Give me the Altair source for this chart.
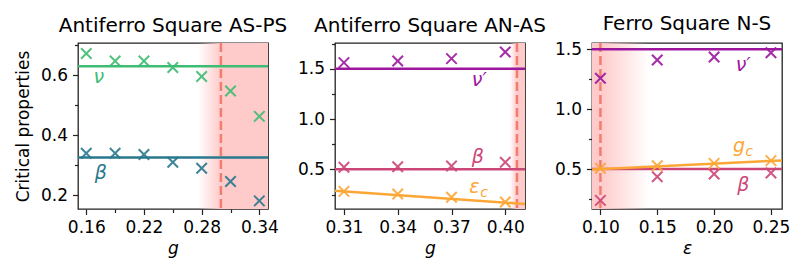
import altair as alt
import pandas as pd

# ---------------- data ----------------
# Panel 1: Antiferro Square AS-PS
p1_g = [0.16, 0.19, 0.22, 0.25, 0.28, 0.31, 0.34]
p1_nu = [0.673, 0.648, 0.648, 0.626, 0.596, 0.548, 0.463]
p1_beta = [0.340, 0.340, 0.336, 0.310, 0.290, 0.246, 0.181]
p1_nu_ref = 0.630
p1_beta_ref = 0.326
p1_xdom = [0.1514, 0.349]
p1_ydom = [0.154, 0.708]
p1_fade = [0.276, 0.300]   # gradient start, critical point
p1_xticks = [0.16, 0.22, 0.28, 0.34]
p1_xminor = [0.19, 0.25, 0.31]
p1_yticks = [0.2, 0.4, 0.6]
p1_yminor = [0.3, 0.5, 0.7]

# Panel 2: Antiferro Square AN-AS
p2_g = [0.31, 0.34, 0.37, 0.40]
p2_nu = [1.560, 1.576, 1.600, 1.665]
p2_beta = [0.520, 0.526, 0.533, 0.570]
p2_eps = [0.281, 0.255, 0.222, 0.175]
p2_nu_ref = 1.5
p2_beta_ref = 0.5
p2_eps_fit_x = [0.305, 0.411]
p2_eps_fit_y = [0.288, 0.156]
p2_xdom = [0.305, 0.411]
p2_ydom = [0.106, 1.755]
p2_fade = [0.4025, 0.4065]
p2_xticks = [0.31, 0.34, 0.37, 0.40]
p2_yticks = [0.5, 1.0, 1.5]
p2_yminor = [0.25, 0.75, 1.25, 1.75]

# Panel 3: Ferro Square N-S
p3_e = [0.10, 0.15, 0.20, 0.25]
p3_nu = [1.258, 1.411, 1.436, 1.472]
p3_gc = [0.506, 0.528, 0.547, 0.570]
p3_beta = [0.238, 0.436, 0.458, 0.467]
p3_nu_ref = 1.5
p3_beta_ref = 0.5
p3_gc_fit_x = [0.0926, 0.2597]
p3_gc_fit_y = [0.497, 0.572]
p3_xdom = [0.0926, 0.2597]
p3_ydom = [0.166, 1.553]
p3_fade = [0.10, 0.143]
p3_xticks = [0.10, 0.15, 0.20, 0.25]
p3_yticks = [0.5, 1.0, 1.5]
p3_yminor = [0.25, 0.75, 1.25]

# colours
GREEN = "#3fbc73"
TEAL = "#2a788e"
PURPLE = "#9c179e"
PINK = "#cc4778"
ORANGE = "#fca636"
SHADE = "#ffcaca"
DASH = "#f47c6c"

W, H = 190, 166
FONT = "DejaVu Sans"
XPATH = "M-1,-1L1,1M-1,1L1,-1"


def panel(title, xtitle, xdom, ydom, xticks, yticks, yminor, xminor,
          points, hlines, fits, shade, crit, labels, ytitle):
    xs = alt.Scale(domain=xdom, nice=False, zero=False)
    ys = alt.Scale(domain=ydom, nice=False, zero=False)
    xaxis = alt.Axis(values=xticks, title=xtitle, format=".2f",
                     titleFontStyle="italic")
    yaxis = alt.Axis(values=yticks, title=ytitle, format=".1f")

    def X(f):
        return alt.X(f, type="quantitative", scale=xs, axis=xaxis)

    def Y(f):
        return alt.Y(f, type="quantitative", scale=ys, axis=yaxis)

    layers = []
    # shaded regions
    for (a, b, kind) in shade:
        df = pd.DataFrame({"a": [a], "b": [b]})
        if kind == "solid":
            fill = SHADE
        else:
            c0, c1 = ("rgba(255,202,202,0)", SHADE) if kind == "up" else (SHADE, "rgba(255,202,202,0)")
            fill = alt.LinearGradient(
                gradient="linear",
                stops=[alt.GradientStop(color=c0, offset=0),
                       alt.GradientStop(color=c1, offset=1)],
                x1=0, x2=1, y1=0, y2=0)
        layers.append(alt.Chart(df).mark_rect(fill=fill, clip=True).encode(
            x=X("a"), x2="b", y=alt.value(0), y2=alt.value(H)))
    # critical dashed line
    layers.append(alt.Chart(pd.DataFrame({"c": [crit]})).mark_rule(
        color=DASH, strokeWidth=2.5, strokeDash=[9, 4]).encode(x=X("c")))
    # horizontal reference lines
    for (val, col) in hlines:
        layers.append(alt.Chart(pd.DataFrame({"v": [val]})).mark_rule(
            color=col, strokeWidth=2.5).encode(y=Y("v")))
    # fitted lines
    for (fx, fy, col) in fits:
        layers.append(alt.Chart(pd.DataFrame({"fx": fx, "fy": fy})).mark_line(
            color=col, strokeWidth=2.5, clip=True).encode(x=X("fx"), y=Y("fy")))
    # measured points
    for (px, py, col) in points:
        layers.append(alt.Chart(pd.DataFrame({"px": px, "py": py})).mark_point(
            shape=XPATH, size=110, filled=False, color=col, strokeWidth=2,
            opacity=0.9, clip=True).encode(x=X("px"), y=Y("py")))
    # labels
    for (lx, ly, txt, sub, col) in labels:
        df = pd.DataFrame({"lx": [lx], "ly": [ly], "t": [txt]})
        layers.append(alt.Chart(df).mark_text(
            font=FONT, fontSize=19, fontStyle="italic", color=col,
            align="center", baseline="middle").encode(
            x=X("lx"), y=Y("ly"), text="t"))
        if sub:
            df2 = pd.DataFrame({"lx": [lx], "ly": [ly], "t": [sub]})
            layers.append(alt.Chart(df2).mark_text(
                font=FONT, fontSize=14, fontStyle="italic", color=col,
                align="left", baseline="middle", dx=6, dy=6).encode(
                x=X("lx"), y=Y("ly"), text="t"))
    main = alt.layer(*layers)

    # minor ticks
    mdf = pd.DataFrame({"mx": [xdom[0]], "my": [ydom[0]]})
    minor_y = alt.Chart(mdf).mark_point(opacity=0).encode(
        y=alt.Y("my", type="quantitative", scale=ys,
                axis=alt.Axis(values=yminor, labels=False, tickSize=3.5,
                              title=None, orient="left", domain=False, grid=False)))
    mlayers = [minor_y]
    if xminor:
        mlayers.append(alt.Chart(mdf).mark_point(opacity=0).encode(
            x=alt.X("mx", type="quantitative", scale=xs,
                    axis=alt.Axis(values=xminor, labels=False, tickSize=3.5,
                                  title=None, orient="bottom", domain=False, grid=False))))
    minor = alt.layer(*mlayers)

    return alt.layer(main, minor).resolve_axis(x="independent", y="independent").properties(
        width=W, height=H,
        title=alt.TitleParams(title, fontSize=20, font=FONT, fontWeight="normal",
                              color="black", offset=6))


c1 = panel("Antiferro Square AS-PS", "g", p1_xdom, p1_ydom, p1_xticks, p1_yticks,
           p1_yminor, p1_xminor,
           points=[(p1_g, p1_nu, GREEN), (p1_g, p1_beta, TEAL)],
           hlines=[(p1_nu_ref, GREEN), (p1_beta_ref, TEAL)],
           fits=[],
           shade=[(p1_fade[0], p1_fade[1], "up"), (p1_fade[1], p1_xdom[1], "solid")],
           crit=p1_fade[1],
           labels=[(0.173, 0.594, "ν", None, GREEN), (0.175, 0.275, "β", None, TEAL)],
           ytitle="Critical properties")

c2 = panel("Antiferro Square AN-AS", "g", p2_xdom, p2_ydom, p2_xticks, p2_yticks,
           p2_yminor, None,
           points=[(p2_g, p2_nu, PURPLE), (p2_g, p2_beta, PINK), (p2_g, p2_eps, ORANGE)],
           hlines=[(p2_nu_ref, PURPLE), (p2_beta_ref, PINK)],
           fits=[(p2_eps_fit_x, p2_eps_fit_y, ORANGE)],
           shade=[(p2_fade[0], p2_fade[1], "up"), (p2_fade[1], p2_xdom[1], "solid")],
           crit=p2_fade[1],
           labels=[(0.3855, 1.388, "ν′", None, PURPLE), (0.3847, 0.622, "β", None, PINK),
                   (0.3827, 0.324, "ε", "c", ORANGE)],
           ytitle=None)

c3 = panel("Ferro Square N-S", "ε", p3_xdom, p3_ydom, p3_xticks, p3_yticks,
           p3_yminor, None,
           points=[(p3_e, p3_nu, PURPLE), (p3_e, p3_beta, PINK), (p3_e, p3_gc, ORANGE)],
           hlines=[(p3_nu_ref, PURPLE), (p3_beta_ref, PINK)],
           fits=[(p3_gc_fit_x, p3_gc_fit_y, ORANGE)],
           shade=[(p3_xdom[0], p3_fade[0], "solid"), (p3_fade[0], p3_fade[1], "down")],
           crit=p3_fade[0],
           labels=[(0.2256, 1.369, "ν′", None, PURPLE), (0.222, 0.692, "g", "c", ORANGE),
                   (0.2256, 0.366, "β", None, PINK)],
           ytitle=None)

chart = alt.hconcat(c1, c2, c3, spacing=67, bounds="flush").properties(
    padding={"left": 5, "top": 5, "right": 5, "bottom": 5}
).configure_view(stroke="#222", strokeWidth=1.3).configure_axis(
    labelFont=FONT, labelFontSize=17, labelColor="black", tickColor="#222",
    tickSize=5.5, labelPadding=5, domain=False, grid=False, tickWidth=1.2,
    titleFont=FONT, titleFontSize=17, titleFontWeight="normal", titleColor="black",
    titlePadding=5
).configure_axisY(titlePadding=8)

chart.save("out.html", embed_options={"renderer": "svg", "actions": False})
